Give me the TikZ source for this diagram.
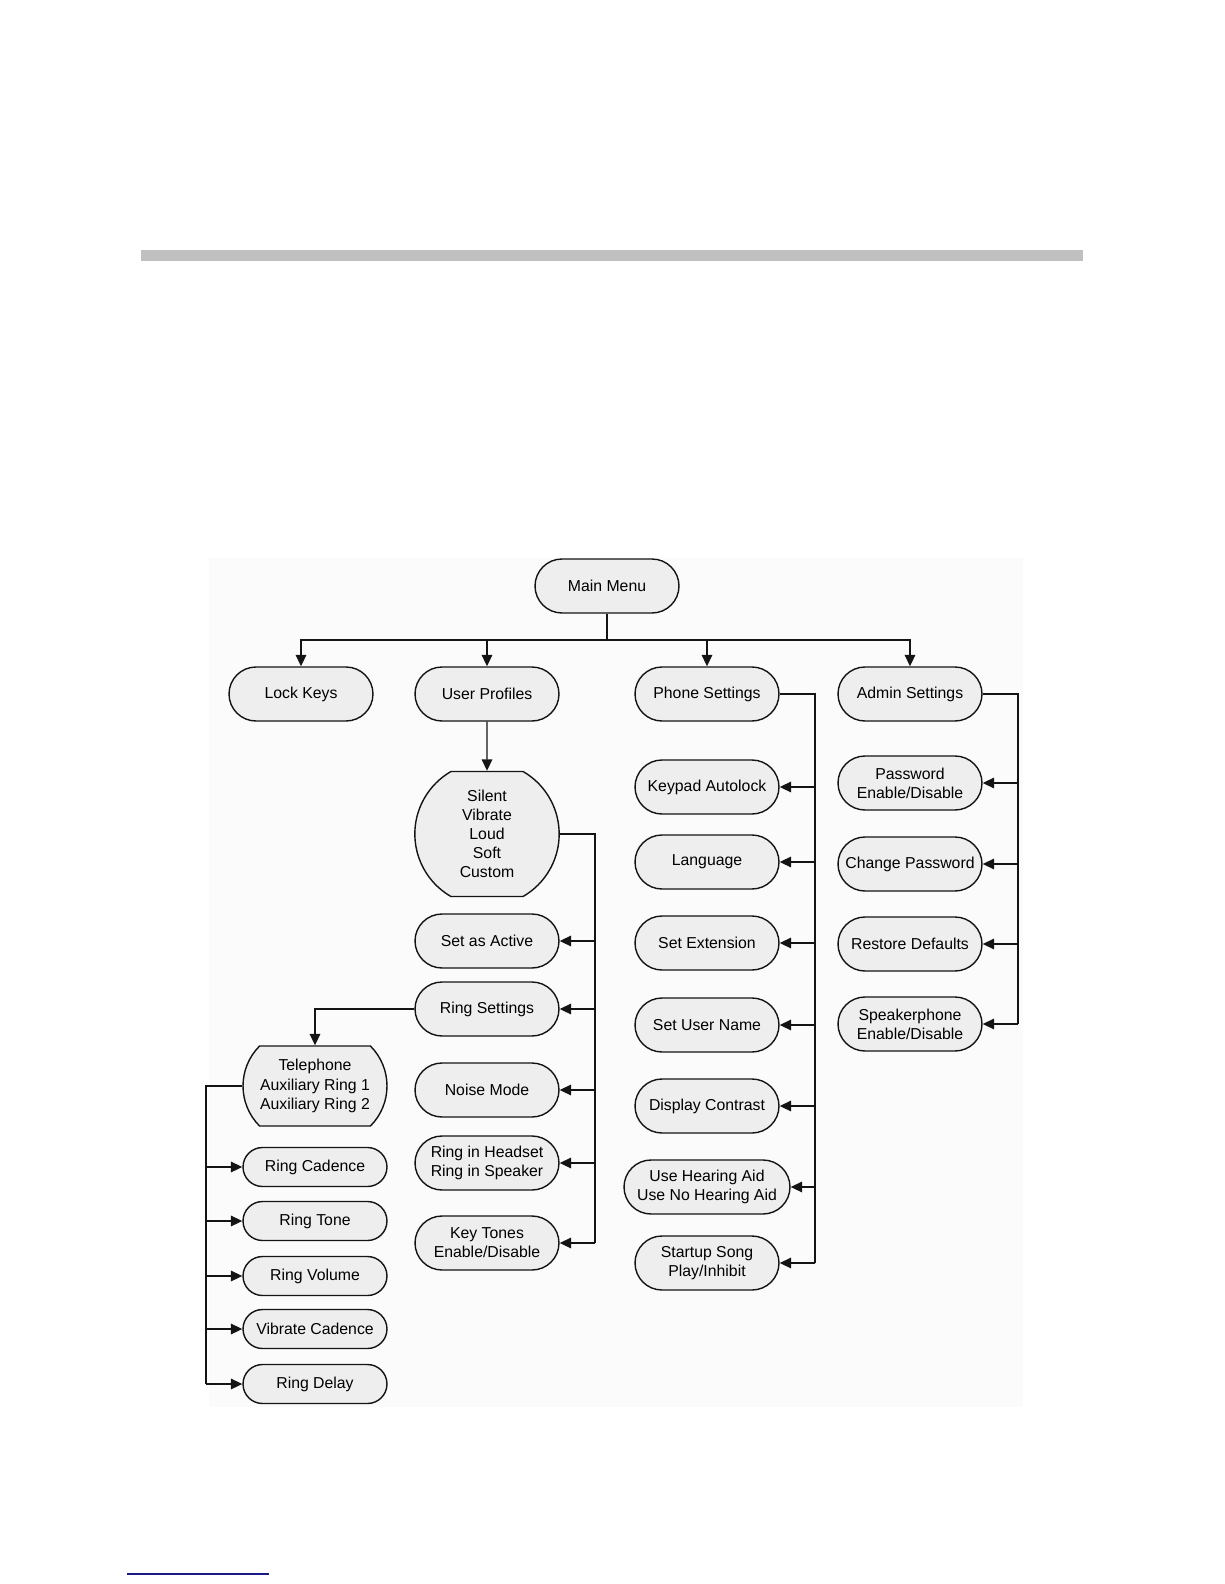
\documentclass[tikz,border=0pt]{standalone}
\usepackage{fontspec}
\setmainfont{Liberation Sans}
\usepackage{xcolor}
\usepackage{tikz}
\usetikzlibrary{shapes.misc, arrows.meta, positioning, calc}
\definecolor{MenuFill}{RGB}{238, 238, 238}
\definecolor{MenuLine}{RGB}{20, 20, 20}
\definecolor{BarGray}{RGB}{192, 192, 192}
\definecolor{PanelGray}{RGB}{251, 251, 251}
\definecolor{LinkBlue}{RGB}{25, 25, 140}

\begin{document}
\begin{tikzpicture}[x=0.02cm, y=-0.02cm,
    box/.style={draw=MenuLine, line width=0.8pt, fill=MenuFill, inner sep=0pt,
      align=center, font=\fontsize{9}{10.9}\selectfont},
    menu/.style={box, rounded corners=0.54cm, minimum width=2.88cm, minimum height=1.08cm},
    item/.style={box, rounded corners=0.39cm, minimum width=2.88cm, minimum height=0.78cm},
    group/.style={box, rounded rectangle, rounded rectangle arc length=90, minimum width=1.4cm},
    link/.style={draw=MenuLine, line width=0.8pt},
    arr/.style={link, -{Triangle[length=6.5pt, width=6pt]}}
  ]
    \useasboundingbox (0,0) rectangle (1224,1584);
    \fill[BarGray] (141,250) rectangle (1083,261);
    \fill[PanelGray] (209,558) rectangle (1023,1407);
    \draw[LinkBlue, line width=1.2pt] (127,1574) -- (269,1574);

    \node[menu] (main) at (607,586) {Main Menu};
    \node[menu] (lock) at (301,694) {Lock Keys};
    \node[menu] (prof) at (487,694) {User Profiles};
    \node[menu] (phone) at (707,694) {Phone Settings};
    \node[menu] (admin) at (910,694) {Admin Settings};

    \node[group, minimum height=2.5cm, rounded rectangle arc length=120] (modes) at (487,834)
      {Silent\\Vibrate\\Loud\\Soft\\Custom};
    \node[menu] (active) at (487,941) {Set as Active};
    \node[menu] (ringset) at (487,1009) {Ring Settings};
    \node[menu] (noise) at (487,1090) {Noise Mode};
    \node[menu] (headset) at (487,1163) {Ring in Headset\\Ring in Speaker};
    \node[menu] (keytones) at (487,1243) {Key Tones\\Enable/Disable};

    \node[group, minimum width=2.88cm, minimum height=1.6cm] (tel) at (315,1086)
      {Telephone\\Auxiliary Ring 1\\Auxiliary Ring 2};
    \node[item] (cadence) at (315,1167) {Ring Cadence};
    \node[item] (tone) at (315,1221) {Ring Tone};
    \node[item] (volume) at (315,1276) {Ring Volume};
    \node[item] (vibcad) at (315,1329) {Vibrate Cadence};
    \node[item] (delay) at (315,1384) {Ring Delay};

    \node[menu] (autolock) at (707,787) {Keypad Autolock};
    \node[menu] (lang) at (707,862) {Language};
    \node[menu] (ext) at (707,943) {Set Extension};
    \node[menu] (uname) at (707,1025) {Set User Name};
    \node[menu] (contrast) at (707,1106) {Display Contrast};
    \node[menu, minimum width=3.32cm] (hearing) at (707,1187) {Use Hearing Aid\\Use No Hearing Aid};
    \node[menu] (song) at (707,1263) {Startup Song\\Play/Inhibit};

    \node[menu] (pwd) at (910,783) {Password\\Enable/Disable};
    \node[menu] (chpwd) at (910,864) {Change Password};
    \node[menu] (restore) at (910,944) {Restore Defaults};
    \node[menu] (speaker) at (910,1024) {Speakerphone\\Enable/Disable};

    \coordinate (topbus) at (607,640);
    \coordinate (profbus) at (595,834);
    \coordinate (ringbus) at (206,1086);
    \coordinate (phonebus) at (815,694);
    \coordinate (adminbus) at (1018,694);

    \draw[link] (main) -- (topbus);
    \foreach \n in {lock,prof,phone,admin}
      \draw[arr] (topbus) -| (\n);
    \draw[arr] (prof) -- (modes);

    \draw[link] (modes.east) -- (profbus) -- (profbus |- keytones.east);
    \foreach \n in {active,ringset,noise,headset,keytones}
      \draw[arr] (profbus |- \n.east) -- (\n.east);

    \draw[arr] (ringset.west) -| (tel.north);
    \draw[link] (tel.west) -- (ringbus) -- (ringbus |- delay.west);
    \foreach \n in {cadence,tone,volume,vibcad,delay}
      \draw[arr] (ringbus |- \n.west) -- (\n.west);

    \draw[link] (phone.east) -- (phonebus) -- (phonebus |- song.east);
    \foreach \n in {autolock,lang,ext,uname,contrast,hearing,song}
      \draw[arr] (phonebus |- \n.east) -- (\n.east);

    \draw[link] (admin.east) -- (adminbus) -- (adminbus |- speaker.east);
    \foreach \n in {pwd,chpwd,restore,speaker}
      \draw[arr] (adminbus |- \n.east) -- (\n.east);
  \end{tikzpicture}
\end{document}
